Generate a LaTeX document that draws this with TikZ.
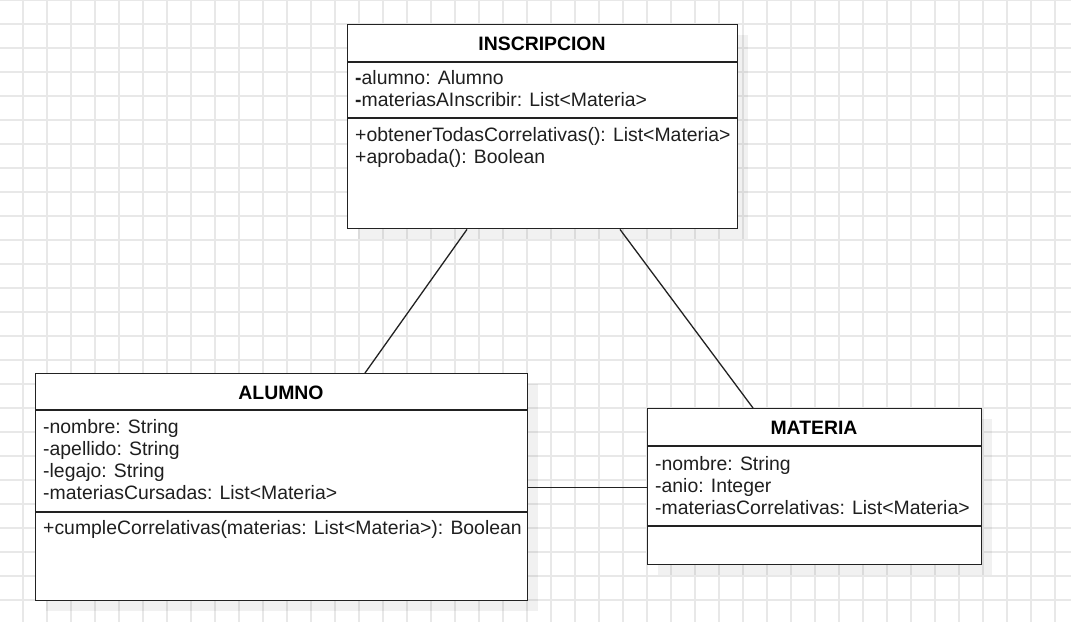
\documentclass[tikz,border=0pt]{standalone}
\usepackage{fontspec}
\setmainfont{Liberation Sans}
\usetikzlibrary{calc}
\definecolor{gridc}{HTML}{E8E8E8}
\definecolor{edge}{HTML}{222222}
\begin{document}
\begin{tikzpicture}[x=1pt,y=-1pt,
  classbox/.style={draw=edge, line width=1.4pt, fill=white, rectangle, inner sep=0pt, anchor=north west},
  divider/.style={draw=edge, line width=1.4pt},
  txt/.style={anchor=base west, inner sep=0pt, font=\fontsize{19.4}{22}\selectfont, text=black!88},
  ttl/.style={anchor=base, inner sep=0pt, font=\fontsize{19.4}{22}\selectfont\bfseries, text=black},
  conn/.style={draw=edge, line width=1.3pt},
  shadowbox/.style={fill=black, fill opacity=0.055}]
% background and grid
\fill[white] (0,0) rectangle (1071,622);
\useasboundingbox (0,0) rectangle (1071,622);
\foreach \i in {0,...,43} {\draw[gridc, line width=1.3pt] ({23+24*\i},0) -- ({23+24*\i},622);}
\foreach \j in {0,...,25} {\draw[gridc, line width=1.3pt] (0,{24*\j}) -- (1071,{24*\j});}

% shadows
\fill[shadowbox] (358,35) rectangle (748,239);
\fill[shadowbox] (46,384) rectangle (538,611);
\fill[shadowbox] (658,419) rectangle (992,575);

% INSCRIPCION
\node[classbox, minimum width=390pt, minimum height=204pt] (insc) at (347,24) {};
\draw[divider] (347,62) -- (737,62);
\draw[divider] (347,118) -- (737,118);
\node[ttl] (inscT) at (542,50) {INSCRIPCION};
\node[txt] (inscA1) at (355,84) {\textbf{-}alumno: Alumno};
\node[txt] (inscA2) at (355,106) {\textbf{-}materiasAInscribir: List<Materia>};
\node[txt] (inscM1) at (355,141) {+obtenerTodasCorrelativas(): List<Materia>};
\node[txt] (inscM2) at (355,163) {+aprobada(): Boolean};

% ALUMNO
\node[classbox, minimum width=492pt, minimum height=227pt] (alumno) at (35,373) {};
\draw[divider] (35,410) -- (527,410);
\draw[divider] (35,512) -- (527,512);
\node[ttl] (alumnoT) at (281,399) {ALUMNO};
\node[txt] (alumnoA1) at (43,433) {-nombre: String};
\node[txt] (alumnoA2) at (43,455) {-apellido: String};
\node[txt] (alumnoA3) at (43,477) {-legajo: String};
\node[txt] (alumnoA4) at (43,499) {-materiasCursadas: List<Materia>};
\node[txt] (alumnoM1) at (43,534) {+cumpleCorrelativas(materias: List<Materia>): Boolean};

% MATERIA
\node[classbox, minimum width=334pt, minimum height=156pt] (materia) at (647,408) {};
\draw[divider] (647,446) -- (981,446);
\draw[divider] (647,526) -- (981,526);
\node[ttl] (materiaT) at (814,434) {MATERIA};
\node[txt] (materiaA1) at (655,470) {-nombre: String};
\node[txt] (materiaA2) at (655,492) {-anio: Integer};
\node[txt] (materiaA3) at (655,514) {-materiasCorrelativas: List<Materia>};

% associations
\draw[conn] ([xshift=120pt]insc.south west) -- ([xshift=330pt]alumno.north west);
\draw[conn] ([xshift=273pt]insc.south west) -- ([xshift=106pt]materia.north west);
\draw[conn] (alumno.east) -- (alumno.east -| materia.west);
\end{tikzpicture}
\end{document}
